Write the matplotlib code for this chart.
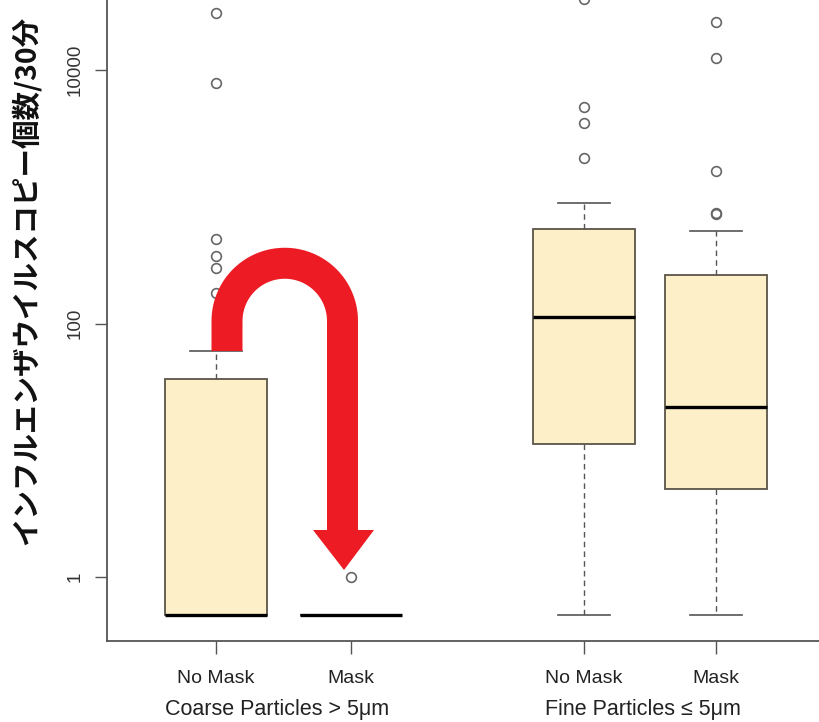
import numpy as np
import matplotlib
matplotlib.use("Agg")
import matplotlib.pyplot as plt
from matplotlib.transforms import Affine2D, blended_transform_factory
from matplotlib.patches import Polygon
from matplotlib.lines import Line2D

# ---- data ----
box_labels = ["No Mask", "Mask", "No Mask", "Mask"]
group_labels = ["Coarse Particles > 5\u03bcm", "Fine Particles \u2264 5\u03bcm"]
q1 = [0.5, 0.5, 11.2, 4.95]
medians = [0.5, 0.5, 112, 21.9]
q3 = [36.5, 0.5, 557, 241]
whisker_lo = [0.5, 0.5, 0.5, 0.5]
whisker_hi = [60.7, 0.5, 893, 537]
fliers = [
    [28200, 7890, 464, 341, 274, 174],
    [1.0],
    [36000, 5100, 3800, 2020],
    [23900, 12400, 1597, 743, 725],
]
y_ticks = [1, 100, 10000]
y_tick_labels = ["1", "100", "10000"]
ylabel = "インフルエンザウイルスコピー個数/30分"

# ---- layout ----
W, H = 819, 722
positions = [1.0, 2.0, 3.726, 4.704]
px_per_unit = 135.0
fig = plt.figure(figsize=(W / 100, H / 100), dpi=100)
ax = fig.add_axes([107 / W, 81 / H, (W - 107) / W, 641 / H])
ax.set_yscale("log")
ax.set_xlim(1 - (216 - 107) / px_per_unit, 1 + (W - 216) / px_per_unit)
dec = 126.75
ax.set_ylim(10 ** ((577 - 641) / dec), 10 ** (577 / dec))

stats = []
for i in range(len(box_labels)):
    stats.append(dict(q1=q1[i], med=medians[i], q3=q3[i],
                      whislo=whisker_lo[i], whishi=whisker_hi[i],
                      fliers=fliers[i], label=box_labels[i]))

gray = "#555555"
ax.bxp(stats, positions=positions, widths=0.75, capwidths=0.39,
       patch_artist=True, manage_ticks=False,
       boxprops=dict(facecolor="#FDF0C9", edgecolor="#5a5448", linewidth=1.3),
       medianprops=dict(color="black", linewidth=2.4, solid_capstyle="butt"),
       whiskerprops=dict(color=gray, linewidth=1.0, linestyle=(0, (4, 3))),
       capprops=dict(color=gray, linewidth=1.2),
       flierprops=dict(marker="o", markerfacecolor="none", markeredgecolor="#666666",
                       markersize=7, markeredgewidth=1.2))

# axes styling
for s in ["top", "right"]:
    ax.spines[s].set_visible(False)
for s in ["left", "bottom"]:
    ax.spines[s].set_color(gray)
    ax.spines[s].set_linewidth(1.3)

ax.set_yticks(y_ticks)
ax.set_yticklabels(y_tick_labels, rotation=90, va="center", fontsize=13.5,
                   family="Liberation Sans", color="#333333")
ax.yaxis.set_minor_locator(matplotlib.ticker.NullLocator())
ax.tick_params(axis="y", length=9, width=1.0, color=gray, pad=8)

ax.set_xticks(positions)
ax.set_xticklabels(box_labels, fontsize=14, family="Liberation Sans", color="#222222")
ax.tick_params(axis="x", length=9, width=1.0, color=gray, pad=12)

tr = blended_transform_factory(ax.transData, fig.transFigure)
for g, lab in enumerate(group_labels):
    cx = (positions[2 * g] + positions[2 * g + 1]) / 2 - 0.05
    ax.text(cx, 1 - 709 / H, lab, transform=tr, ha="center", va="center",
            fontsize=15.5, family=["Liberation Sans", "DejaVu Sans"], color="#222222")

fig.text(26 / W, 1 - 280 / H, ylabel, rotation=90, ha="center", va="center",
         fontsize=20.5, fontweight="bold",
         family=["Noto Sans CJK JP", "DejaVu Sans"], color="#111111")

# ---- red U-turn arrow (annotation, pixel coordinates) ----
pix = Affine2D().scale(1 / W, -1 / H).translate(0, 1) + fig.transFigure
red = "#ED1C24"
xl, xr, cy = 227.0, 342.5, 321.0
r = (xr - xl) / 2
cxa = (xl + xr) / 2
th = np.linspace(np.pi, 0, 60)
xs = np.concatenate([[xl, xl], cxa + r * np.cos(th), [xr, xr]])
ys = np.concatenate([[351, cy], cy - r * np.sin(th), [cy, 531]])
fig.add_artist(Line2D(xs, ys, transform=pix, color=red, linewidth=31 * 0.72,
                      solid_capstyle="butt", solid_joinstyle="round"))
fig.add_artist(Polygon([[313, 530], [374, 530], [344, 570]], closed=True,
                       transform=pix, facecolor=red, edgecolor="none"))

fig.savefig("out.png", dpi=100)
